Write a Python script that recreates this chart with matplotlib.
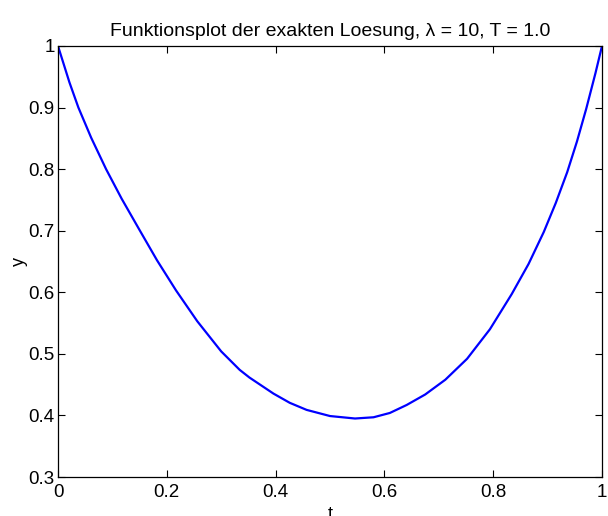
import numpy as np
import matplotlib
matplotlib.use("Agg")
import matplotlib.pyplot as plt

# values
t_vals = [0.0, 0.021, 0.0375, 0.061, 0.0884, 0.117, 0.150, 0.182, 0.217,
          0.256, 0.300, 0.334, 0.352, 0.396, 0.426, 0.457, 0.500, 0.546,
          0.580, 0.610, 0.641, 0.675, 0.712, 0.752, 0.794, 0.834,
          0.865, 0.893, 0.915, 0.936, 0.954, 0.971, 0.988, 1.0]
y_vals = [1.0, 0.941, 0.900, 0.851, 0.800, 0.752, 0.701, 0.652, 0.603,
          0.553, 0.504, 0.474, 0.4615, 0.4355, 0.4205, 0.409, 0.399, 0.395,
          0.397, 0.404, 0.417, 0.434, 0.458, 0.492, 0.540, 0.597,
          0.646, 0.698, 0.745, 0.795, 0.845, 0.898, 0.956, 1.0]

x_ticks = [0, 0.2, 0.4, 0.6, 0.8, 1]
x_ticklabels = ["0", "0.2", "0.4", "0.6", "0.8", "1"]
y_ticks = [0.3, 0.4, 0.5, 0.6, 0.7, 0.8, 0.9, 1]
y_ticklabels = ["0.3", "0.4", "0.5", "0.6", "0.7", "0.8", "0.9", "1"]

plt.rcParams['font.family'] = ['Liberation Sans', 'DejaVu Sans']

fig = plt.figure(figsize=(6.08, 5.16), dpi=100)
ax = fig.add_axes([58/608, 1 - 477/516, (602-58)/608, (477-46)/516])

ax.plot(t_vals, y_vals, color='blue', linewidth=1.6)

ax.set_xlim(0, 1)
ax.set_ylim(0.3, 1)
ax.set_xticks(x_ticks)
ax.set_xticklabels(x_ticklabels)
ax.set_yticks(y_ticks)
ax.set_yticklabels(y_ticklabels)
ax.tick_params(direction='in', length=5, width=0.8, top=True, right=True,
               labelsize=13.5)
ax.tick_params(axis='x', pad=5)
ax.tick_params(axis='y', pad=2.5)
for s in ax.spines.values():
    s.set_linewidth(0.9)

ax.set_title('Funktionsplot der exakten Loesung, λ = 10, T = 1.0', fontsize=14, pad=7)
ax.set_xlabel('t', fontsize=13, va='top')
ax.xaxis.set_label_coords(0.5, -0.068)
ax.set_ylabel('y', fontsize=13, va='center')
ax.yaxis.set_label_coords(-0.071, 0.5)

fig.savefig('out.png', dpi=100)
